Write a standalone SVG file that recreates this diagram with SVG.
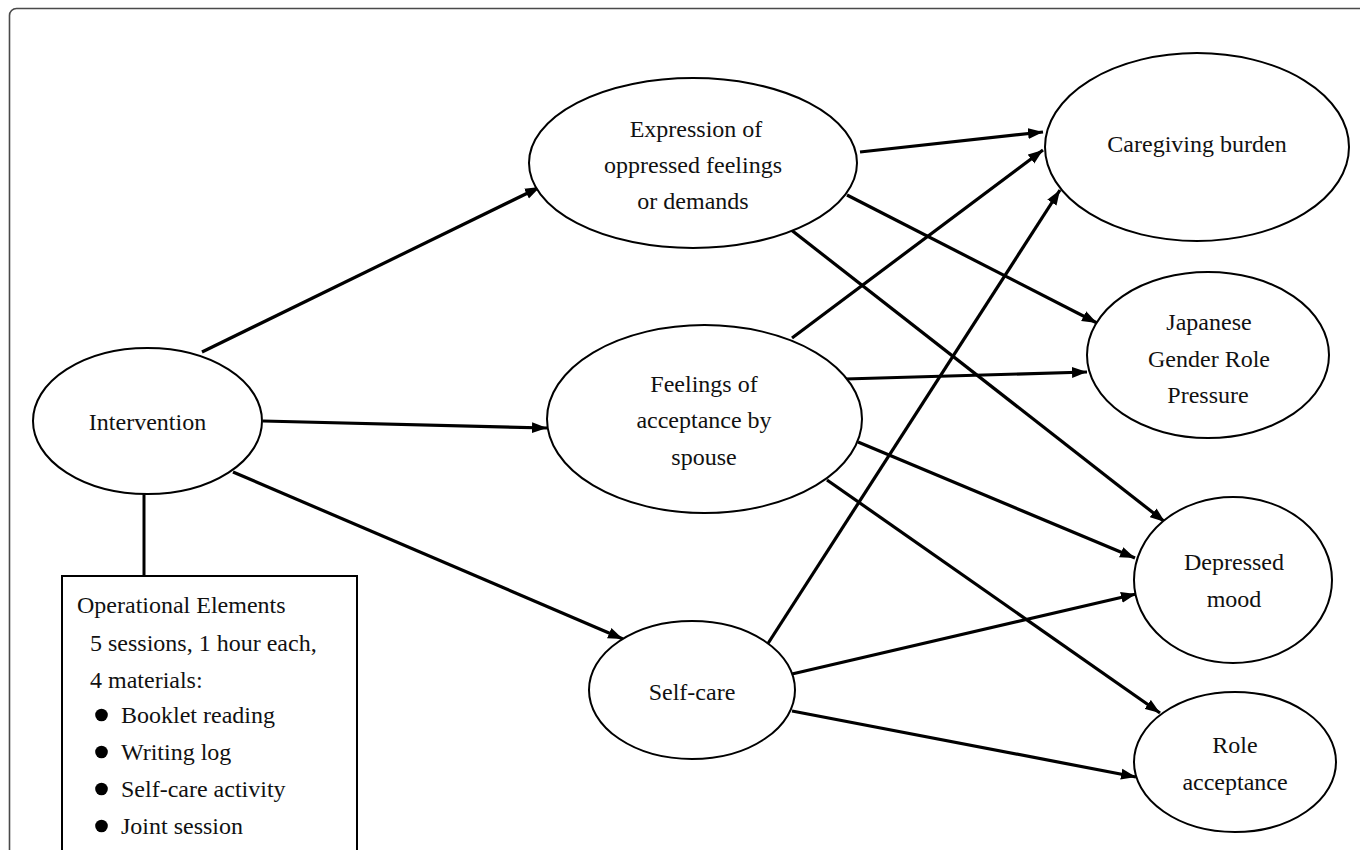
<svg xmlns="http://www.w3.org/2000/svg" width="1360" height="850" viewBox="0 0 1360 850">
<style>
  .node { fill: #fff; stroke: #000; stroke-width: 2; }
  .lbl { font-family: "Liberation Serif", "Times New Roman", serif; font-size: 24px; fill: #111; text-anchor: middle; }
  .box { font-family: "Liberation Serif", "Times New Roman", serif; font-size: 24px; fill: #111; }
  .edge { stroke: #000; stroke-width: 3.2; fill: none; marker-end: url(#ah); }
</style>
<defs>
  <marker id="ah" markerUnits="userSpaceOnUse" markerWidth="16" markerHeight="12" refX="15" refY="6" orient="auto">
    <path d="M0,0.5 L15,6 L0,11.5 z" fill="#000"/>
  </marker>
</defs>
<rect x="0" y="0" width="1360" height="850" fill="#fff"/>
<rect x="9.5" y="8.5" width="1400" height="900" rx="7" fill="none" stroke="#4a4a4a" stroke-width="1.6"/>

<g id="connectors">
  <line x1="144" y1="494" x2="144" y2="576" stroke="#000" stroke-width="3"/>
  <line class="edge" x1="202" y1="352" x2="540" y2="187"/>
  <line class="edge" x1="263" y1="421" x2="547" y2="428"/>
  <line class="edge" x1="233" y1="472" x2="623" y2="639"/>
  <line class="edge" x1="860" y1="152" x2="1043" y2="132"/>
  <line class="edge" x1="847" y1="195" x2="1097" y2="323"/>
  <line class="edge" x1="790" y1="229" x2="1165" y2="522"/>
  <line class="edge" x1="792" y1="338" x2="1043" y2="150"/>
  <line class="edge" x1="767" y1="645" x2="1060" y2="190"/>
  <line class="edge" x1="845" y1="379" x2="1087" y2="372"/>
  <line class="edge" x1="858" y1="442" x2="1135" y2="558"/>
  <line class="edge" x1="827" y1="480" x2="1160" y2="713"/>
  <line class="edge" x1="792" y1="674" x2="1136" y2="594"/>
  <line class="edge" x1="792" y1="711" x2="1136" y2="777"/>
</g>

<g id="intervention">
  <ellipse class="node" cx="147.5" cy="421" rx="114.5" ry="73"/>
  <text class="lbl" x="147.5" y="430">Intervention</text>
</g>

<g id="expression">
  <ellipse class="node" cx="693" cy="163" rx="164" ry="85"/>
  <text class="lbl" x="696" y="137">Expression of</text>
  <text class="lbl" x="693" y="173">oppressed feelings</text>
  <text class="lbl" x="693" y="209">or demands</text>
</g>

<g id="feelings">
  <ellipse class="node" cx="704.5" cy="419" rx="157.5" ry="94"/>
  <text class="lbl" x="704" y="392">Feelings of</text>
  <text class="lbl" x="704" y="428">acceptance by</text>
  <text class="lbl" x="704" y="465">spouse</text>
</g>

<g id="selfcare">
  <ellipse class="node" cx="692" cy="690" rx="103" ry="69"/>
  <text class="lbl" x="692" y="700">Self-care</text>
</g>

<g id="caregiving">
  <ellipse class="node" cx="1197" cy="147" rx="152" ry="94"/>
  <text class="lbl" x="1197" y="152">Caregiving burden</text>
</g>

<g id="japanese">
  <ellipse class="node" cx="1208" cy="355" rx="121" ry="83"/>
  <text class="lbl" x="1209" y="330">Japanese</text>
  <text class="lbl" x="1209" y="367">Gender Role</text>
  <text class="lbl" x="1208" y="403">Pressure</text>
</g>

<g id="depressed">
  <ellipse class="node" cx="1233" cy="580" rx="99" ry="83"/>
  <text class="lbl" x="1234" y="570">Depressed</text>
  <text class="lbl" x="1234" y="607">mood</text>
</g>

<g id="role">
  <ellipse class="node" cx="1235" cy="762" rx="101" ry="70"/>
  <text class="lbl" x="1235" y="753">Role</text>
  <text class="lbl" x="1235" y="790">acceptance</text>
</g>

<g id="operational">
  <rect x="62" y="576" width="295" height="300" fill="#fff" stroke="#000" stroke-width="2"/>
  <text class="box" x="77" y="613">Operational Elements</text>
  <text class="box" x="90" y="651">5 sessions, 1 hour each,</text>
  <text class="box" x="90" y="688">4 materials:</text>
  <circle cx="101.5" cy="715" r="6.3" fill="#000"/>
  <text class="box" x="121" y="723">Booklet reading</text>
  <circle cx="101.5" cy="752" r="6.3" fill="#000"/>
  <text class="box" x="121" y="760">Writing log</text>
  <circle cx="101.5" cy="789" r="6.3" fill="#000"/>
  <text class="box" x="121" y="797">Self-care activity</text>
  <circle cx="101.5" cy="826" r="6.3" fill="#000"/>
  <text class="box" x="121" y="834">Joint session</text>
</g>
</svg>
